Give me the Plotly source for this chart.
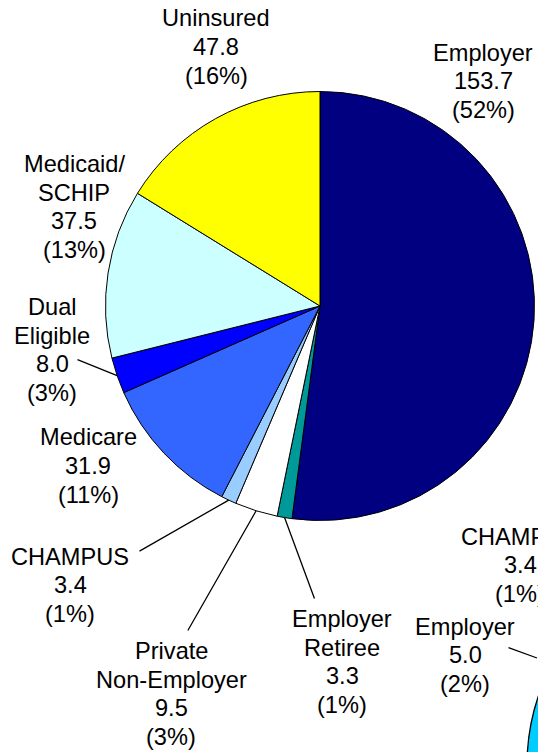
import math
import plotly.graph_objects as go

# ---------------- data ----------------
categories = ["Employer", "Employer Retiree", "Private Non-Employer", "CHAMPUS",
              "Medicare", "Dual Eligible", "Medicaid/SCHIP", "Uninsured"]
name_lines = [["Employer"], ["Employer", "Retiree"], ["Private", "Non-Employer"], ["CHAMPUS"],
              ["Medicare"], ["Dual", "Eligible"], ["Medicaid/", "SCHIP"], ["Uninsured"]]
values = [153.7, 3.3, 9.5, 3.4, 31.9, 8.0, 37.5, 47.8]

# second (mostly cropped) pie: only two labels visible
second_names = ["CHAMPUS", "Employer"]
second_values = [3.4, 5.0]
second_pcts = [1, 2]

# ---------------- style / layout ----------------
W, H = 538, 752
colors = ["#000080", "#009999", "#FFFFFF", "#99CCFF",
          "#3366FF", "#0000FF", "#CCFFFF", "#FFFF00"]
CX, CY, R = 320, 306, 214.5
FONT = dict(family="Liberation Sans, Arial, sans-serif", size=23.6, color="black")
LINE_H = 28.5

# label centres (pixels)
label_pos = {
    "Employer": (483, 81),
    "Employer Retiree": (342, 662),
    "Private Non-Employer": (171, 694),
    "CHAMPUS": (70, 585),
    "Medicare": (88, 466),
    "Dual Eligible": (52, 350),
    "Medicaid/SCHIP": (74, 207),
    "Uninsured": (216, 47),
}
# leader line start points (pixels) for labels with a leader
leader_start = {
    "Employer Retiree": (315, 600),
    "Private Non-Employer": (187, 632),
    "CHAMPUS": (138, 552),
    "Dual Eligible": (76, 359),
}
second_label_pos = [(520, 565), (465, 655)]
second_leader = {1: ((507, 647), (558, 658))}
second_pie_box = (527, 550, 957, 980)  # pixel bbox of the cropped second pie


def px(x):
    return x / W


def py(y):
    return 1 - y / H


def add_label(annots, lines, cx, cy):
    n = len(lines)
    for i, t in enumerate(lines):
        yy = cy + (i - (n - 1) / 2) * LINE_H
        annots.append(dict(
            x=px(cx), y=py(yy), xref="paper", yref="paper", text=t,
            showarrow=False, xanchor="center", yanchor="middle",
            align="center", font=FONT,
        ))


def add_leader(annots, start, tip):
    (sx, sy), (tx, ty) = start, tip
    annots.append(dict(
        x=px(tx), y=py(ty), xref="paper", yref="paper",
        ax=sx - tx, ay=sy - ty, text="",
        showarrow=True, arrowhead=0, arrowwidth=1.3, arrowcolor="black",
        standoff=0, startstandoff=0,
    ))


fig = go.Figure()
fig.add_trace(go.Pie(
    labels=categories,
    values=values,
    sort=False,
    direction="clockwise",
    rotation=0,
    textinfo="none",
    hoverinfo="label+value+percent",
    marker=dict(colors=colors, line=dict(color="black", width=1)),
    domain=dict(x=[px(CX - R), px(CX + R)], y=[py(CY + R), py(CY - R)]),
    showlegend=False,
))

annotations = []
total = sum(values)
cum = 0.0
for name, lines, v in zip(categories, name_lines, values):
    pct = round(v / total * 100)
    mid = (cum + v / 2) / total * 2 * math.pi
    cum += v
    lx, ly = label_pos[name]
    add_label(annotations, lines + [f"{v:.1f}", f"({pct}%)"], lx, ly)
    if name in leader_start:
        tip = (CX + R * math.sin(mid), CY - R * math.cos(mid))
        add_leader(annotations, leader_start[name], tip)

for i, (n, v, p) in enumerate(zip(second_names, second_values, second_pcts)):
    lx, ly = second_label_pos[i]
    add_label(annotations, [n, f"{v:.1f}", f"({p}%)"], lx, ly)
    if i in second_leader:
        add_leader(annotations, *second_leader[i])

x0, y0, x1, y1 = second_pie_box
fig.add_shape(type="circle", xref="paper", yref="paper",
              x0=px(x0), x1=px(x1), y0=py(y1), y1=py(y0),
              fillcolor="#00CCFF", line=dict(color="black", width=1.3), layer="below")

fig.update_layout(
    width=W, height=H,
    margin=dict(l=0, r=0, t=0, b=0),
    paper_bgcolor="white", plot_bgcolor="white",
    annotations=annotations,
    font=FONT,
)

fig.write_html("out.html", config={"displayModeBar": False},
               post_script="document.body.style.margin='0';")
